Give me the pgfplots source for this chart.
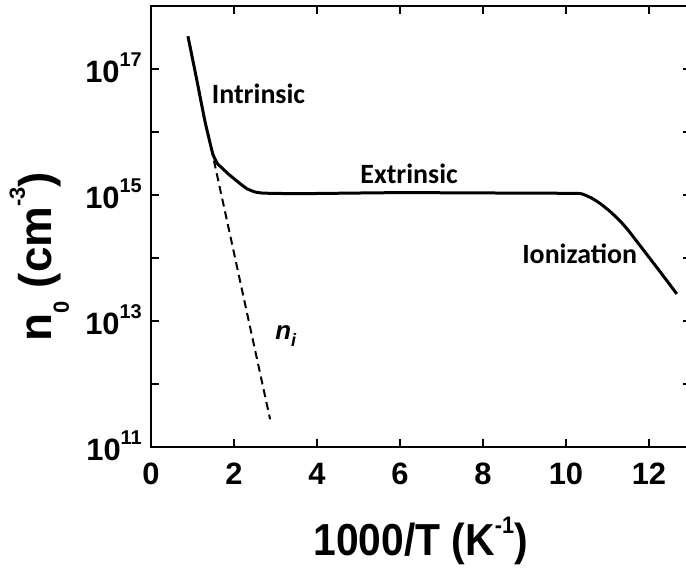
\documentclass[border=0pt]{standalone}
\usepackage{fontspec}
\setmainfont{Liberation Sans}
\newfontfamily\calfont{Carlito}
\usepackage{pgfplots}
\pgfplotsset{compat=1.18}

% power-of-ten tick label set in the text font
\newcommand\sci[1]{10\raisebox{16bp}{\fontsize{20}{21}\selectfont #1}}

\begin{document}
\begin{tikzpicture}
\path[use as bounding box] (-151bp,-124bp) rectangle (535bp,447bp);
\begin{axis}[
  at={(0,0)}, anchor=south west, scale only axis,
  width=539.5bp, height=441bp,
  xmin=0, xmax=13, ymode=log, ymin=1e11, ymax=1e18,
  axis line style={line width=2bp},
  every tick/.style={black, line width=1.3bp},
  tick align=inside,
  major tick length=8bp, minor tick length=8bp,
  xtick={0,2,...,12}, xticklabels={0,2,4,6,8,10,12},
  ytick={1e11,1e13,1e15,1e17},
  yticklabels={\sci{11},\sci{13},\sci{15},\sci{17}},
  minor ytick={1e12,1e14,1e16},
  xticklabel style={font=\bfseries\fontsize{31}{33}\selectfont, anchor=base, inner sep=0pt, yshift=-38bp},
  yticklabel style={font=\bfseries\fontsize{31}{33}\selectfont, anchor=base east, inner sep=0pt, xshift=-9bp, yshift=-14bp},
  xlabel={\scalebox{0.91}[1]{1000/T (K\raisebox{22bp}{\fontsize{24}{26}\selectfont -1})}},
  xlabel style={font=\bfseries\fontsize{45}{50}\selectfont, at={(axis description cs:0.5,-0.245)}, anchor=base, inner sep=0pt},
  ylabel={n\raisebox{-17bp}{\fontsize{22}{23}\selectfont 0} (cm\raisebox{27bp}{\fontsize{22}{23}\selectfont -3})},
  ylabel style={font=\bfseries\fontsize{46}{50}\selectfont, at={(axis description cs:-0.1835,0.432)}, anchor=base, rotate=0, inner sep=0pt},
  clip=false,
]
% electron concentration
\addplot[black, line width=3bp, smooth, tension=0.25, line join=round] coordinates {
  (0.89,3.31e17) (1.10,6.9e16) (1.30,1.48e16) (1.49,4.47e15)
  (1.60,3.16e15) (1.71,2.69e15) (1.85,2.19e15) (1.98,1.86e15)
  (2.15,1.51e15) (2.31,1.26e15) (2.50,1.12e15) (2.70,1.07e15)
  (3.59,1.05e15) (6.00,1.09e15) (9.00,1.07e15) (10.29,1.06e15)
  (10.45,1.0e15) (10.62,8.91e14) (10.82,7.35e14) (11.05,5.57e14)
  (11.30,3.89e14) (11.50,2.75e14) (11.71,1.82e14) (12.20,6.92e13)
  (12.67,2.69e13)
};
% intrinsic concentration
\addplot[black, line width=2bp, dash pattern=on 8bp off 5bp] coordinates {
  (1.45,5.6e15) (2.87,2.75e11)
};
\node[font=\calfont\bfseries\fontsize{28}{30}\selectfont, anchor=base] at (axis cs:2.59,2.88e16) {Intrinsic};
\node[font=\calfont\bfseries\fontsize{28}{30}\selectfont, anchor=base] at (axis cs:6.22,1.55e15) {Extrinsic};
\node[font=\calfont\bfseries\fontsize{28}{30}\selectfont, anchor=base] at (axis cs:10.33,8.3e13) {Ionization};
\node[font=\bfseries\itshape\fontsize{26}{28}\selectfont, anchor=base west, inner sep=0pt] at (axis cs:2.99,5.1e12) {n\raisebox{-7bp}{\fontsize{18}{20}\selectfont i}};
\end{axis}
\end{tikzpicture}
\end{document}
